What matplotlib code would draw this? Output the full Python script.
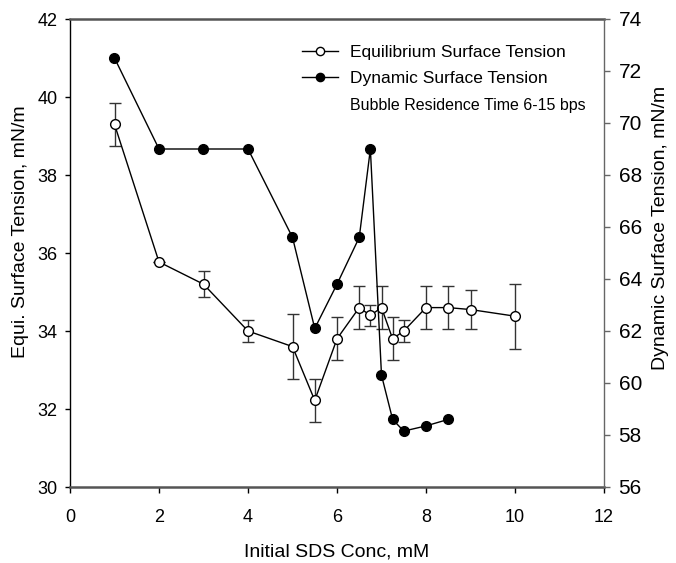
import numpy as np
import matplotlib
matplotlib.use("Agg")
import matplotlib.pyplot as plt

# equilibrium surface tension (left axis)
eq_conc = [1, 2, 3, 4, 5, 5.5, 6, 6.5, 6.75, 7, 7.25, 7.5, 8, 8.5, 9, 10]
eq_st = [39.3, 35.77, 35.2, 34.0, 33.6, 32.22, 33.8, 34.6, 34.4, 34.6, 33.8, 34.0, 34.6, 34.6, 34.55, 34.38]
eq_err = [0.55, 0.0, 0.33, 0.27, 0.84, 0.56, 0.55, 0.55, 0.27, 0.55, 0.55, 0.27, 0.55, 0.55, 0.5, 0.83]

# dynamic surface tension (right axis)
dyn_conc = [1, 2, 3, 4, 5, 5.5, 6, 6.5, 6.75, 7, 7.25, 7.5, 8, 8.5]
dyn_st = [72.5, 69.0, 69.0, 69.0, 65.6, 62.1, 63.8, 65.6, 69.0, 60.3, 58.6, 58.15, 58.35, 58.6]

xticks = np.arange(0, 13, 2)
yticks_left = np.arange(30, 43, 2)
yticks_right = np.arange(56, 75, 2)

narrow = ["Liberation Sans Narrow", "Liberation Sans", "DejaVu Sans"]
regular = ["Liberation Sans", "DejaVu Sans"]
plt.rcParams["font.family"] = narrow

fig = plt.figure(figsize=(6.76, 5.63), dpi=100)
ax = fig.add_axes([70/676, 1-487/563, 534/676, 468/563])
ax2 = ax.twinx()

kw = dict(color='black', linewidth=1, markersize=7, markeredgewidth=1, clip_on=False)
ax.errorbar(eq_conc, eq_st, yerr=eq_err, fmt='none', ecolor='#333333', elinewidth=1, capsize=4.5, capthick=1)
l_eq, = ax.plot(eq_conc, eq_st, 'o-', markerfacecolor='white', markeredgecolor='black',
                label='Equilibrium Surface Tension', zorder=3, **kw)
l_dyn, = ax2.plot(dyn_conc, dyn_st, 'o-', markerfacecolor='black', markeredgecolor='black',
                  label='Dynamic Surface Tension', **kw)

ax.set_xlim(0, 12)
ax.set_ylim(30, 42)
ax2.set_ylim(56, 74)
ax.set_xticks(xticks)
ax.set_yticks(yticks_left)
ax2.set_yticks(yticks_right)

# spines
for s in ['top', 'bottom']:
    ax.spines[s].set_color('#555555')
    ax.spines[s].set_linewidth(1.8)
ax.spines['left'].set_linewidth(1)
ax.spines['right'].set_visible(False)
for s in ['top', 'bottom', 'left']:
    ax2.spines[s].set_visible(False)
ax2.spines['right'].set_color('#666666')
ax2.spines['right'].set_linewidth(1)

ax.tick_params(axis='x', direction='out', length=4.5, width=1, pad=11, labelsize=13)
ax.tick_params(axis='y', direction='out', length=3.8, width=1, pad=5, labelsize=13)
ax2.tick_params(axis='y', direction='out', length=4.5, width=1, color='#666666', pad=6, labelsize=15)

ax.set_xlabel('Initial SDS Conc, mM', fontsize=14, va='center')
ax.xaxis.set_label_coords(0.5, -0.138)
ax.set_ylabel('Equi. Surface Tension, mN/m', fontsize=14, family=regular, va='center')
ax.yaxis.set_label_coords(-0.092, 0.545)
ax2.set_ylabel('Dynamic Surface Tension, mN/m', fontsize=14, family=regular, va='center', rotation=90)
ax2.yaxis.set_label_coords(1.105, 0.553)

leg = ax2.legend(handles=[l_eq, l_dyn], loc='upper left', bbox_to_anchor=(0.434, 0.945),
                 frameon=False, fontsize=12.5, handlelength=2.1, handletextpad=0.7,
                 borderpad=0, borderaxespad=0, labelspacing=0.62, markerscale=0.85)
ax2.text(0.524, 0.815, 'Bubble Residence Time 6-15 bps', transform=ax2.transAxes,
         fontsize=11.5, va='center', ha='left')

fig.savefig('out.png', dpi=100)
